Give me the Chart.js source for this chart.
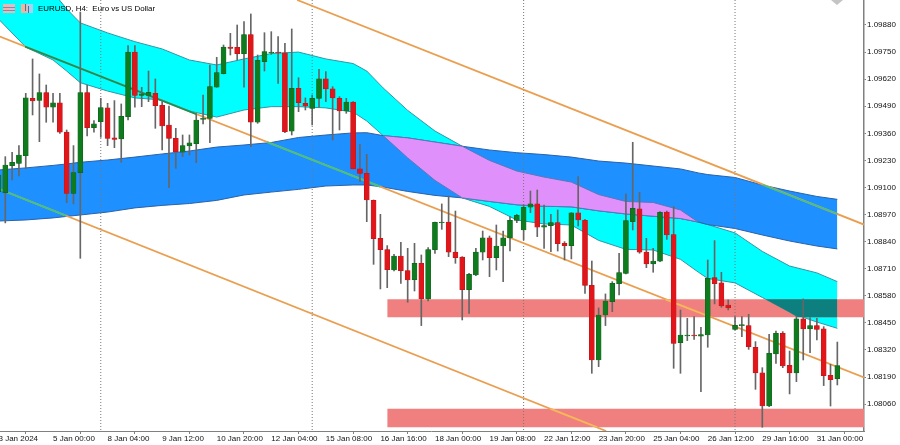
<!DOCTYPE html>
<html>
<head>
<meta charset="utf-8">
<title>EURUSD H4</title>
<script src="https://cdn.jsdelivr.net/npm/chart.js@4"></script>
<style>
html,body{margin:0;padding:0;background:#fff;width:900px;height:445px;overflow:hidden}
#c{position:absolute;left:-2px;top:0}
#t{position:absolute;left:38px;top:4px;font:7.9px "Liberation Sans",sans-serif;color:#000;white-space:pre}
</style>
</head>
<body>
<canvas id="c" width="902" height="445"></canvas>
<div id="t">EURUSD, H4:  Euro vs US Dollar</div>
<script>
const xTickIdx=[-1,7,15,23,31,39,47,55,63,71,79,87,95,103,111,119];
const xTickLabels=["3 Jan 2024","5 Jan 00:00","8 Jan 04:00","9 Jan 12:00","10 Jan 20:00","12 Jan 04:00","15 Jan 08:00","16 Jan 16:00","18 Jan 00:00","19 Jan 08:00","22 Jan 12:00","23 Jan 20:00","25 Jan 04:00","26 Jan 12:00","29 Jan 16:00","31 Jan 00:00"];
const yTicks=[1.0988,1.0975,1.0962,1.0949,1.0936,1.0923,1.091,1.0897,1.0884,1.0871,1.0858,1.0845,1.0832,1.0819,1.0806];

// H4 candles, first is index -1, ten per row
const cOpen=[
1.09080,1.09075,1.09205,1.09216,1.09253,1.09528,1.09518,1.09555,1.09485,1.09506,
1.09366,1.09072,1.09171,1.09555,1.09387,1.09416,1.09482,1.09338,1.09333,1.09440,
1.09750,1.09542,1.09542,1.09552,1.09494,1.09400,1.09336,1.09270,1.09299,1.09310,
1.09427,1.09432,1.09582,1.09646,1.09774,1.09773,1.09742,1.09834,1.09414,1.09704,
1.09746,1.09750,1.09746,1.09370,1.09576,1.09504,1.09480,1.09528,1.09622,1.09573,
1.09528,1.09467,1.09510,1.09190,1.09168,1.09038,1.08856,1.08802,1.08704,1.08771,
1.08701,1.08658,1.08736,1.08565,1.08802,1.08931,1.08934,1.08790,1.08766,1.08610,
1.08680,1.08790,1.08858,1.08763,1.08819,1.08858,1.08942,1.08896,1.09005,1.09021,
1.08910,1.08917,1.08931,1.08832,1.08821,1.08978,1.08942,1.08630,1.08272,1.08488,
1.08552,1.08638,1.08688,1.08936,1.08997,1.08790,1.08733,1.08746,1.08982,1.08874,
1.08355,1.08387,1.08392,1.08386,1.08392,1.08667,1.08642,1.08536,1.08419,1.08437,
1.08437,1.08333,1.08210,1.08051,1.08301,1.08400,1.08246,1.08210,1.08469,1.08421,
1.08437,1.08421,1.08198,1.08182];
const cClose=[
1.09160,1.09208,1.09221,1.09256,1.09530,1.09515,1.09555,1.09485,1.09506,1.09366,
1.09072,1.09171,1.09555,1.09387,1.09406,1.09483,1.09336,1.09331,1.09442,1.09750,
1.09542,1.09550,1.09557,1.09493,1.09395,1.09336,1.09272,1.09301,1.09314,1.09424,
1.09432,1.09584,1.09651,1.09774,1.09768,1.09742,1.09834,1.09413,1.09710,1.09752,
1.09750,1.09746,1.09368,1.09576,1.09507,1.09491,1.09528,1.09622,1.09573,1.09530,
1.09467,1.09510,1.09189,1.09168,1.09040,1.08854,1.08802,1.08706,1.08771,1.08701,
1.08656,1.08736,1.08565,1.08802,1.08933,1.08934,1.08790,1.08763,1.08610,1.08683,
1.08790,1.08858,1.08763,1.08819,1.08858,1.08942,1.08966,1.09005,1.09021,1.08909,
1.08917,1.08931,1.08830,1.08821,1.08978,1.08944,1.08630,1.08272,1.08488,1.08555,
1.08640,1.08691,1.08941,1.09000,1.08790,1.08733,1.08747,1.08981,1.08872,1.08352,
1.08392,1.08392,1.08387,1.08394,1.08664,1.08638,1.08531,1.08522,1.08438,1.08442,
1.08336,1.08210,1.08051,1.08304,1.08400,1.08243,1.08210,1.08469,1.08421,1.08437,
1.08419,1.08197,1.08178,1.08245];
const cHigh=[
1.09200,1.09248,1.09269,1.09301,1.09552,1.09717,1.09645,1.09592,1.09552,1.09552,
1.09376,1.09301,1.09942,1.09592,1.09421,1.09528,1.09504,1.09517,1.09501,1.09781,
1.09781,1.09581,1.09659,1.09621,1.09512,1.09491,1.09384,1.09352,1.09352,1.09448,
1.09544,1.09688,1.09725,1.09784,1.09840,1.09880,1.09896,1.09933,1.09736,1.09843,
1.09848,1.09824,1.09792,1.09861,1.09627,1.09530,1.09544,1.09667,1.09656,1.09584,
1.09536,1.09528,1.09512,1.09307,1.09259,1.09040,1.08971,1.08821,1.08779,1.08837,
1.08808,1.08832,1.08776,1.08811,1.08934,1.09021,1.09059,1.08987,1.08768,1.08688,
1.08808,1.08891,1.08867,1.08920,1.08891,1.08960,1.08971,1.09016,1.09083,1.09088,
1.09016,1.08971,1.08992,1.08840,1.08979,1.09152,1.08947,1.08747,1.08522,1.08589,
1.08648,1.08784,1.09069,1.09317,1.09077,1.08856,1.08808,1.08984,1.08987,1.09008,
1.08512,1.08472,1.08480,1.08429,1.08752,1.08845,1.08693,1.08560,1.08480,1.08480,
1.08491,1.08360,1.08235,1.08395,1.08411,1.08408,1.08315,1.08480,1.08565,1.08475,
1.08472,1.08432,1.08251,1.08358];
const cLow=[
1.09080,1.08930,1.09136,1.09155,1.09192,1.09448,1.09320,1.09413,1.09413,1.09360,
1.09027,1.09021,1.08760,1.09347,1.09365,1.09341,1.09301,1.09291,1.09221,1.09424,
1.09485,1.09488,1.09512,1.09384,1.09280,1.09099,1.09192,1.09248,1.09256,1.09219,
1.09405,1.09315,1.09581,1.09645,1.09736,1.09712,1.09581,1.09296,1.09408,1.09659,
1.09739,1.09600,1.09363,1.09352,1.09464,1.09472,1.09400,1.09485,1.09512,1.09328,
1.09376,1.09456,1.09189,1.09128,1.08936,1.08731,1.08613,1.08619,1.08699,1.08640,
1.08549,1.08603,1.08437,1.08555,1.08784,1.08899,1.08768,1.08736,1.08464,1.08496,
1.08677,1.08752,1.08672,1.08704,1.08648,1.08795,1.08931,1.08848,1.08979,1.08864,
1.08808,1.08792,1.08795,1.08752,1.08757,1.08915,1.08592,1.08208,1.08240,1.08437,
1.08504,1.08584,1.08685,1.08896,1.08784,1.08715,1.08693,1.08744,1.08851,1.08232,
1.08208,1.08365,1.08371,1.08120,1.08333,1.08541,1.08525,1.08512,1.08416,1.08384,
1.08323,1.08131,1.07949,1.08048,1.08256,1.08235,1.08109,1.08168,1.08272,1.08307,
1.08368,1.08149,1.08051,1.08152];

// Clouds
const bandIdx=[-1,3,7,9,11,15,19,23,27,31,35,39,43,47,51,53,55.4,59,63,67,71,75,79,83,87,91,95,99,101.6,103,107,111,115,119,122];
const cyanUpper=[1.10216,1.10144,1.10038,1.09957,1.09890,1.09842,1.09800,1.09765,1.09712,1.09688,1.09717,1.09743,1.09750,1.09717,1.09695,1.09659,1.09578,1.09470,1.09371,1.09298,1.09230,1.09179,1.09150,1.09126,1.09066,1.09033,1.09028,1.08992,1.08934,1.08922,1.08882,1.08793,1.08723,1.08690,1.08648];
const cyanLower=[1.09909,1.09774,1.09712,1.09659,1.09603,1.09563,1.09530,1.09520,1.09467,1.09438,1.09472,1.09488,1.09488,1.09482,1.09462,1.09419,1.09349,1.09242,1.09134,1.09050,1.09009,1.08944,1.08925,1.08920,1.08846,1.08803,1.08800,1.08755,1.08694,1.08663,1.08642,1.08572,1.08500,1.08454,1.08424];
const blueUpper=[1.09184,1.09194,1.09206,1.09213,1.09221,1.09232,1.09246,1.09261,1.09275,1.09294,1.09304,1.09316,1.09340,1.09352,1.09362,1.09363,1.09349,1.09338,1.09318,1.09298,1.09280,1.09267,1.09258,1.09246,1.09227,1.09217,1.09203,1.09189,1.09170,1.09162,1.09148,1.09112,1.09083,1.09057,1.09043];
const blueLower=[1.08939,1.08944,1.08954,1.08961,1.08968,1.08982,1.09002,1.09014,1.09023,1.09038,1.09064,1.09078,1.09091,1.09107,1.09112,1.09112,1.09102,1.09081,1.09062,1.09050,1.09033,1.09017,1.09010,1.09007,1.08988,1.08973,1.08962,1.08951,1.08934,1.08922,1.08903,1.08872,1.08843,1.08819,1.08805];

// Support zones
const zoneStart=[56,126];
const zone1=[1.08563,1.08477];
const zone2=[1.08038,1.07949];
const tealIdx=[111.4,115,116.2,119,122];
const tealUpper=[1.08563,1.08563,1.08563,1.08563,1.08563];
const tealLower=[1.08563,1.08500,1.08477,1.08477,1.08477];

// Channel lines
const chanAIdx=[42.8,125.9], chanAVal=[1.10000,1.08922];
const chanBIdx=[-1.07,125.9], chanBVal=[1.09828,1.08188];
const chanCIdx=[-1.07,88.1], chanCVal=[1.09095,1.07931];
const onCyanIdx=[2.9,28.1], onCyanVal=[1.09776,1.09451];
const onBlueIdx=[38.4,54.95,null,-1.07,8.9,null,111.1,122], onBlueVal=[1.09318,1.09104,null,1.09095,1.08965,null,1.09112,1.08974];
const onZoneIdx=[96.8,103.5,null,79.9,86.8], onZoneVal=[1.08563,1.08477,null,1.08038,1.07949];
const sepIdx=[14,45,76,107];

const segs=(a,b)=>{ // separate stretches of one line become separate datasets
  const out=[];let cur=[];
  a.forEach((x,i)=>{ if(x===null){out.push(cur);cur=[];} else cur.push({x,y:b[i]}); });
  out.push(cur);return out;
};
const zip=(a,b)=>a.map((x,i)=>({x,y:b[i]}));
const ds=[];
const band=(xs,up,lo,fill,edge)=>{
  ds.push({type:'line',data:zip(xs,up),borderColor:edge,borderWidth:edge?1:0,pointRadius:0,fill:{target:'+1'},backgroundColor:fill,tension:0});
  ds.push({type:'line',data:zip(xs,lo),borderColor:edge,borderWidth:edge?1:0,pointRadius:0,fill:false,tension:0});
};
band(bandIdx,cyanUpper,cyanLower,'#00ffff','#3195a4');
band(bandIdx,blueUpper,blueLower,'#1e90ff','#2a62a8');
const ovIdx=[],ovUp=[],ovLo=[];
bandIdx.forEach((v,i)=>{ if(v>=55.4&&v<=101.6){ovIdx.push(v);ovUp.push(Math.min(cyanUpper[i],blueUpper[i]));ovLo.push(Math.max(cyanLower[i],blueLower[i]));}});
band(ovIdx,ovUp,ovLo,'#e090fa','#5a78b8');
band(zoneStart,[zone1[0],zone1[0]],[zone1[1],zone1[1]],'#f08080',null);
band(zoneStart,[zone2[0],zone2[0]],[zone2[1],zone2[1]],'#f08080',null);
band(tealIdx,tealUpper,tealLower,'#0e7f7f',null);
sepIdx.forEach(v=>ds.push({type:'line',data:[{x:v,y:1.10},{x:v,y:1.0793}],borderColor:'#777',borderWidth:1,borderDash:[1,2],pointRadius:0,fill:false}));
const line=(xs,ys,col)=>segs(xs,ys).forEach(s=>ds.push({type:'line',data:s,borderColor:col,borderWidth:1.8,pointRadius:0,fill:false,tension:0}));
line(chanAIdx,chanAVal,'#ea9f50');
line(chanBIdx,chanBVal,'#ea9f50');
line(chanCIdx,chanCVal,'#ea9f50');
line(onCyanIdx,onCyanVal,'#17905e');
line(onBlueIdx,onBlueVal,'#3fc482');
line(onZoneIdx,onZoneVal,'#f5b85e');
ds.push({type:'bar',data:cOpen.map((o,i)=>({x:i-1,y:[cLow[i],cHigh[i]]})),backgroundColor:'#666',barThickness:1,grouped:false,borderWidth:0});
ds.push({type:'bar',data:cOpen.map((o,i)=>({x:i-1,y:[o,cClose[i]]})),backgroundColor:cOpen.map((o,i)=>cClose[i]>=o?'#0f7a1e':'#e0161b'),borderColor:cOpen.map((o,i)=>cClose[i]>=o?'#0c5c18':'#b81418'),borderWidth:0.5,borderSkipped:false,barThickness:5,grouped:false});
ds.forEach((d,i)=>d.order=ds.length-i);

const decor={id:'decor',afterDraw(ch){
  const g=ch.ctx;g.save();
  g.fillStyle='#c4c4c4';g.beginPath();g.moveTo(833,0);g.lineTo(845,0);g.lineTo(839,5);g.closePath();g.fill();
  g.fillStyle='#f2b6ae';g.fillRect(5,4,12,9);
  g.fillStyle='#c9c4dc';g.fillRect(11,5,5,7);
  g.fillStyle='#8a8a9a';g.fillRect(5,7,12,1);g.fillRect(5,10,12,1);
  g.fillStyle='#f3b49a';g.fillRect(23,4,6,9);
  g.fillStyle='#a8d2f0';g.fillRect(29,4,6,9);
  g.fillStyle='#4f6f9f';g.fillRect(27,4,1,7);g.fillRect(30,6,1,7);
  g.restore();
}};

new Chart(document.getElementById('c'),{
  type:'bar',
  data:{datasets:ds},
  plugins:[decor],
  options:{
    responsive:false,animation:false,devicePixelRatio:1,
    layout:{padding:0},
    plugins:{legend:{display:false},tooltip:{enabled:false},title:{display:false}},
    scales:{
      x:{type:'linear',min:-1.07,max:125.91,offset:false,
        afterFit:s=>{s.height=14;s.paddingLeft=0;s.paddingRight=0;},
        afterBuildTicks:s=>{s.ticks=xTickIdx.map(v=>({value:v}));},
        grid:{display:true,drawOnChartArea:false,drawTicks:true,tickLength:3,color:'#808080'},
        border:{display:true,color:'#808080',width:1},
        ticks:{autoSkip:false,maxRotation:0,minRotation:0,align:'start',padding:0,color:'#111',font:{family:'"Liberation Sans"',size:8},
          callback:(v)=>{const k=xTickIdx.indexOf(v);return k<0?'':xTickLabels[k];}}
      },
      y:{type:'linear',position:'right',min:1.07931,max:1.10000,
        afterFit:s=>{s.width=36;s.paddingTop=0;s.paddingBottom=0;},
        afterBuildTicks:s=>{s.ticks=yTicks.map(v=>({value:v}));},
        grid:{display:true,drawOnChartArea:false,drawTicks:true,tickLength:2,color:'#808080'},
        border:{display:true,color:'#808080',width:1.5},
        ticks:{autoSkip:false,padding:1,color:'#111',font:{family:'"Liberation Sans"',size:8},callback:v=>v.toFixed(5)}
      }
    }
  }
});
</script>
</body>
</html>
